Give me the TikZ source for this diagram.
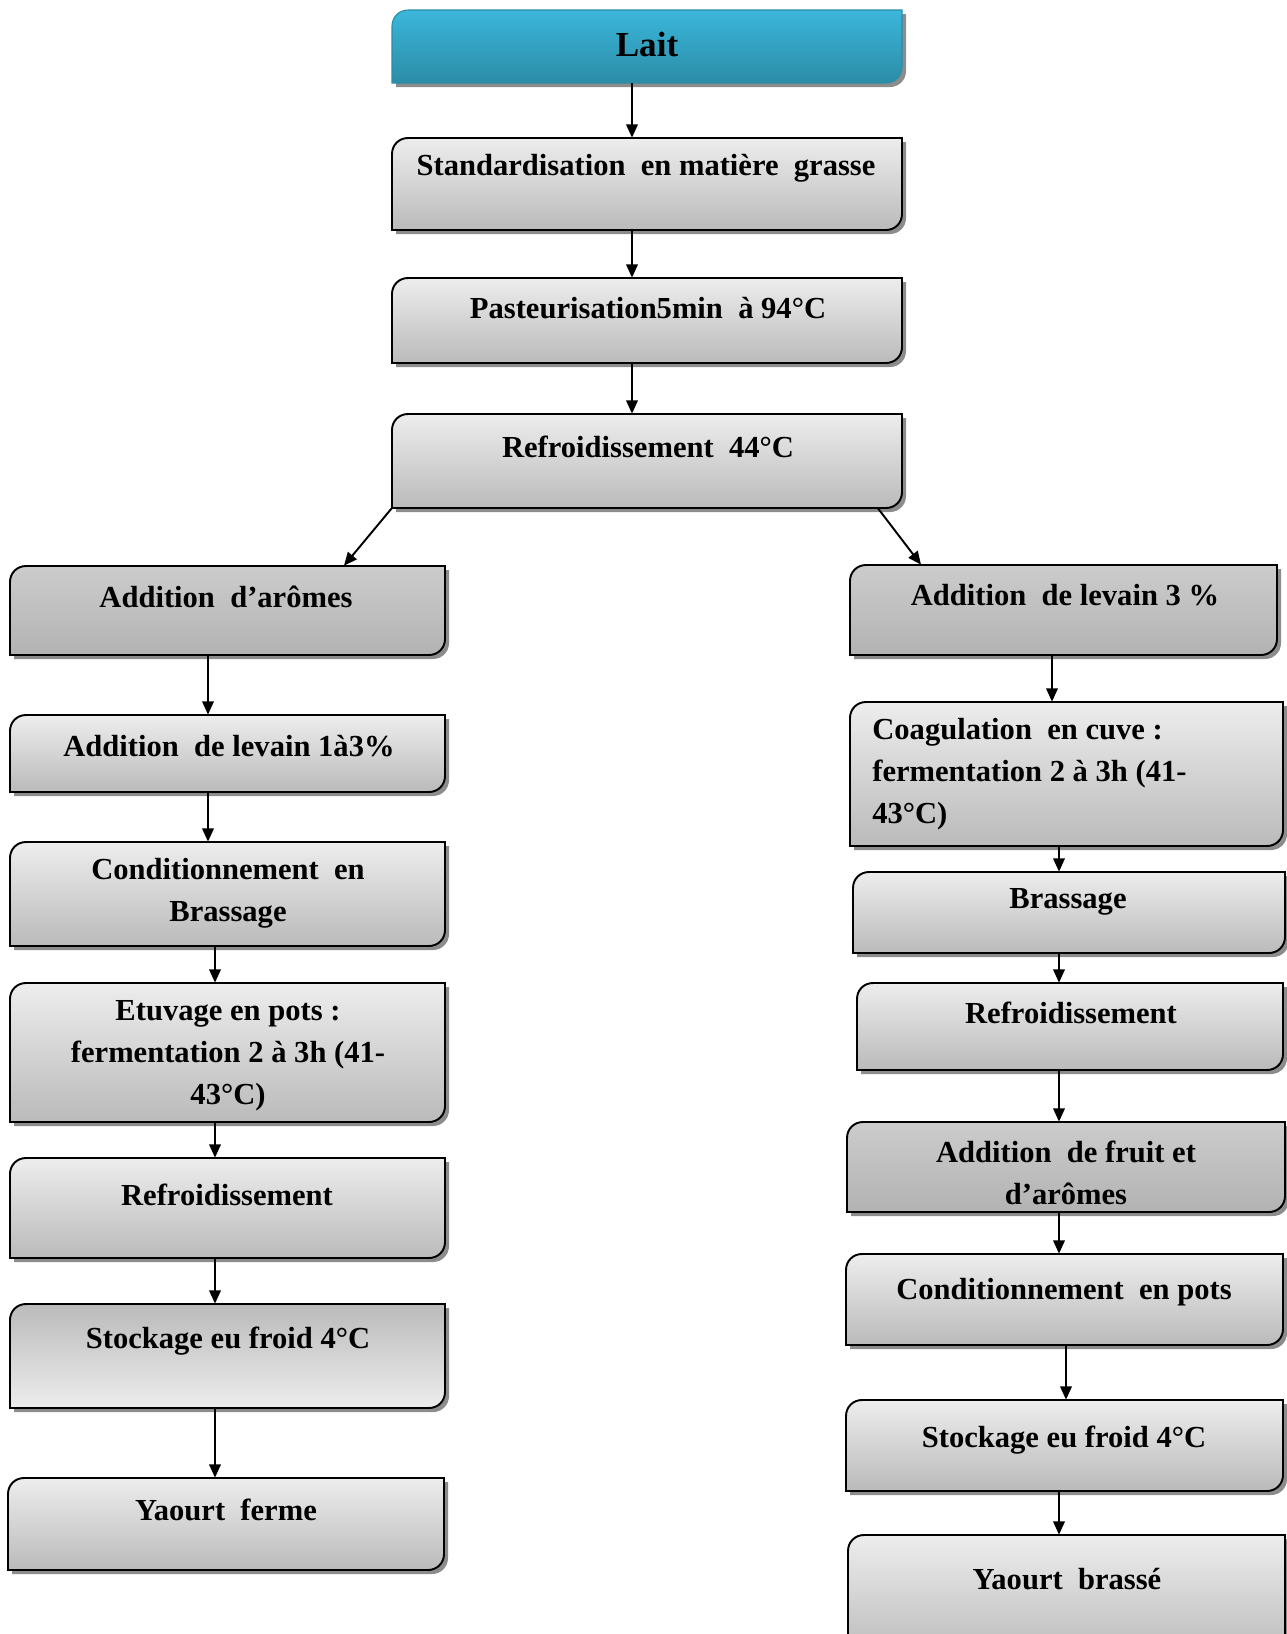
\documentclass[tikz,border=0pt]{standalone}
\usepackage{fontspec}
\setmainfont{Liberation Serif}
\usetikzlibrary{arrows.meta,fit}

\definecolor{laittop}{HTML}{3BB6DA}
\definecolor{laitbot}{HTML}{2B8DA7}

\tikzset{
  boxshadow/.style={fill=black!45},
  lightbox/.style={top color=black!7, bottom color=black!27, draw=black, line width=1.1pt},
  darkbox/.style={top color=black!20, bottom color=black!30, draw=black, line width=1.1pt},
  flipbox/.style={top color=black!27, bottom color=black!7, draw=black, line width=1.1pt},
  laitbox/.style={top color=laittop, bottom color=laitbot, draw=laitbot, line width=0.6pt},
  steptext/.style={font=\bfseries\fontsize{17.4}{23.8}\selectfont, align=center, inner sep=0pt},
  flow/.style={-{Triangle[length=7.5pt,width=6.5pt]}, line width=1.1pt}
}

% box with rounded top-left and bottom-right corners
\newcommand{\flowbox}[6]{%
  \fill[boxshadow, shift={(4,4)}] (#3,#4+16) .. controls (#3,#4+7) and (#3+7,#4) .. (#3+16,#4) -- (#5,#4)
    -- (#5,#6-16) .. controls (#5,#6-7) and (#5-7,#6) .. (#5-16,#6) -- (#3,#6) -- cycle;
  \path[#2] (#3,#4+16) .. controls (#3,#4+7) and (#3+7,#4) .. (#3+16,#4) -- (#5,#4)
    -- (#5,#6-16) .. controls (#5,#6-7) and (#5-7,#6) .. (#5-16,#6) -- (#3,#6) -- cycle;
  \coordinate (#1-nw) at (#3,#4);
  \coordinate (#1-se) at (#5,#6);
  \node[inner sep=0pt, fit=(#1-nw)(#1-se)] (#1) {};
}

\begin{document}
\begin{tikzpicture}[x=0.02cm, y=-0.02cm]
  \useasboundingbox (0,0) rectangle (1286,1634);

  % middle
  \flowbox{lait}{laitbox}{392}{10}{902}{83}
  \flowbox{std}{lightbox}{392}{138}{902}{230}
  \flowbox{past}{lightbox}{392}{278}{902}{363}
  \flowbox{ref44}{lightbox}{392}{414}{902}{508}

  % left column
  \flowbox{arome}{darkbox}{10}{566}{445}{655}
  \flowbox{levl}{lightbox}{10}{715}{445}{792}
  \flowbox{condl}{lightbox}{10}{842}{445}{946}
  \flowbox{etuv}{lightbox}{10}{983}{445}{1122}
  \flowbox{refl}{lightbox}{10}{1158}{445}{1258}
  \flowbox{stockl}{flipbox}{10}{1304}{445}{1408}
  \flowbox{yferme}{lightbox}{8}{1478}{444}{1570}

  % right column
  \flowbox{levr}{darkbox}{850}{565}{1277}{655}
  \flowbox{coag}{lightbox}{850}{702}{1283}{846}
  \flowbox{brass}{lightbox}{853}{872}{1285}{953}
  \flowbox{refr}{lightbox}{857}{983}{1283}{1070}
  \flowbox{fruit}{darkbox}{847}{1122}{1285}{1212}
  \flowbox{condr}{lightbox}{846}{1254}{1283}{1345}
  \flowbox{stockr}{lightbox}{846}{1400}{1283}{1491}
  \flowbox{ybrasse}{lightbox}{848}{1535}{1285}{1660}

  % texts
  \node[steptext, font=\bfseries\fontsize{20}{24}\selectfont] (lait-t) at (647,44) {Lait};
  \node[steptext] (std-t) at (646,168) {Standardisation\ \ en matière\ \ grasse};
  \node[steptext] (past-t) at (648,308) {Pasteurisation5min\ \ à 94°C};
  \node[steptext] (ref44-t) at (648,447) {Refroidissement\ \ 44°C};
  \node[steptext] (arome-t) at (226,597) {Addition\ \ d’arômes};
  \node[steptext] (levl-t) at (229,746) {Addition\ \ de levain 1à3\%};
  \node[steptext] (condl-t) at (228,893) {Conditionnement\ \ en\\Brassage};
  \node[steptext] (etuv-t) at (228,1056) {Etuvage en pots :\\fermentation 2 à 3h (41-\\43°C)};
  \node[steptext] (refl-t) at (227,1195) {Refroidissement};
  \node[steptext] (stockl-t) at (228,1341) {Stockage eu froid 4°C};
  \node[steptext] (yferme-t) at (226,1510) {Yaourt\ \ ferme};
  \node[steptext] (levr-t) at (1065,595) {Addition\ \ de levain 3 \%};
  \node[steptext, align=left, anchor=west] (coag-t) at (872,774) {Coagulation\ \ en cuve :\\fermentation 2 à 3h (41-\\43°C)};
  \node[steptext] (brass-t) at (1068,902) {Brassage};
  \node[steptext] (refr-t) at (1071,1013) {Refroidissement};
  \node[steptext] (fruit-t) at (1066,1173) {Addition\ \ de fruit et\\d’arômes};
  \node[steptext] (condr-t) at (1064,1292) {Conditionnement\ \ en pots};
  \node[steptext] (stockr-t) at (1064,1440) {Stockage eu froid 4°C};
  \node[steptext] (ybrasse-t) at (1067,1579) {Yaourt\ \ brassé};

  % arrow columns
  \coordinate (xm) at (632,0);
  \coordinate (xl1) at (208,0);
  \coordinate (xl2) at (215,0);
  \coordinate (xr1) at (1052,0);
  \coordinate (xr2) at (1059,0);
  \coordinate (xr3) at (1066,0);
  \coordinate (xdl) at (344,0);
  \coordinate (xdr) at (878,0);
  \coordinate (xdr2) at (921,0);

  \draw[flow] (lait.south -| xm) -- (std.north -| xm);
  \draw[flow] (std.south -| xm) -- (past.north -| xm);
  \draw[flow] (past.south -| xm) -- (ref44.north -| xm);
  \draw[flow] (ref44.south west) -- (arome.north -| xdl);
  \draw[flow] (ref44.south -| xdr) -- (levr.north -| xdr2);

  \draw[flow] (arome.south -| xl1) -- (levl.north -| xl1);
  \draw[flow] (levl.south -| xl1) -- (condl.north -| xl1);
  \draw[flow] (condl.south -| xl2) -- (etuv.north -| xl2);
  \draw[flow] (etuv.south -| xl2) -- (refl.north -| xl2);
  \draw[flow] (refl.south -| xl2) -- (stockl.north -| xl2);
  \draw[flow] (stockl.south -| xl2) -- (yferme.north -| xl2);

  \draw[flow] (levr.south -| xr1) -- (coag.north -| xr1);
  \draw[flow] (coag.south -| xr2) -- (brass.north -| xr2);
  \draw[flow] (brass.south -| xr2) -- (refr.north -| xr2);
  \draw[flow] (refr.south -| xr2) -- (fruit.north -| xr2);
  \draw[flow] (fruit.south -| xr2) -- (condr.north -| xr2);
  \draw[flow] (condr.south -| xr3) -- (stockr.north -| xr3);
  \draw[flow] (stockr.south -| xr2) -- (ybrasse.north -| xr2);
\end{tikzpicture}
\end{document}
